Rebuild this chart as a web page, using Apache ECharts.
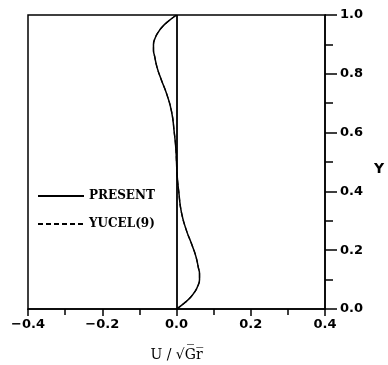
<!DOCTYPE html>
<html>
<head>
<meta charset="utf-8">
<script src="https://cdn.jsdelivr.net/npm/echarts@6/dist/echarts.min.js"></script>
<style>
  html, body { margin: 0; padding: 0; background: #fff; }
  #chart { width: 388px; height: 365px; }
</style>
</head>
<body>
<div id="chart"></div>
<script>
// Y positions across the channel (vertical axis)
const yValues = [0, 0.02, 0.04, 0.06, 0.08, 0.10, 0.12, 0.14, 0.18, 0.22, 0.27, 0.33, 0.40, 0.45, 0.50,
  0.55, 0.60, 0.67, 0.73, 0.78, 0.82, 0.86, 0.88, 0.90, 0.92, 0.94, 0.96, 0.98, 1.0]
// U / sqrt(Gr), present solution
const presentU = [0, 0.021, 0.038, 0.050, 0.058, 0.062, 0.062, 0.059, 0.052, 0.041, 0.026, 0.013, 0.006, 0.002, 0,
  -0.002, -0.006, -0.013, -0.026, -0.041, -0.052, -0.059, -0.062, -0.062, -0.058, -0.050, -0.038, -0.021, 0]
// Yucel (9), lies on top of the present curve
const yucelU = [0, 0.021, 0.038, 0.050, 0.058, 0.062, 0.062, 0.059, 0.052, 0.041, 0.026, 0.013, 0.006, 0.002, 0,
  -0.002, -0.006, -0.013, -0.026, -0.041, -0.052, -0.059, -0.062, -0.062, -0.058, -0.050, -0.038, -0.021, 0]
const seriesNames = ["PRESENT", "YUCEL(9)"]

const fmt = v => (v < 0 ? "\u2212" : "") + Math.abs(v).toFixed(1)
const pairs = (us) => us.map((u, i) => [u, yValues[i]])

const labelFont = { color: "#000", fontFamily: "DejaVu Sans", fontWeight: "bold", fontSize: 13 }

const option = {
  backgroundColor: "#fff",
  animation: false,
  grid: {
    left: 28, right: 63, top: 15, bottom: 56,
    outerBoundsMode: "none",
    show: true, borderColor: "#000", borderWidth: 1.5
  },
  legend: {
    orient: "vertical",
    left: 32, top: 185,
    itemWidth: 46, itemHeight: 10, itemGap: 16,
    data: seriesNames.map(n => ({ name: n, itemStyle: { opacity: 0 } })),
    textStyle: { color: "#000", fontFamily: "DejaVu Serif", fontWeight: "bold", fontSize: 12 }
  },
  xAxis: {
    type: "value",
    min: -0.4, max: 0.4, interval: 0.2,
    name: "U / \u221AG\u0305r\u0305",
    nameLocation: "middle", nameGap: 39,
    nameTextStyle: { color: "#000", fontFamily: "DejaVu Serif", fontSize: 14 },
    axisLine: { onZero: false, lineStyle: { color: "#000", width: 1.5 } },
    axisTick: { inside: false, length: 7, lineStyle: { color: "#000", width: 1.5 } },
    minorTick: { show: true, splitNumber: 2, length: 6, lineStyle: { color: "#000", width: 1.5 } },
    axisLabel: Object.assign({ margin: 9, formatter: fmt }, labelFont),
    splitLine: { show: false }
  },
  yAxis: {
    type: "value",
    position: "right",
    min: 0, max: 1, interval: 0.2,
    name: "Y",
    nameLocation: "middle", nameGap: 49, nameRotate: 0,
    nameTextStyle: Object.assign({}, labelFont, { fontSize: 14, verticalAlign: "top" }),
    axisLine: { show: true, onZero: false, lineStyle: { color: "#000", width: 1.5 } },
    axisTick: { inside: false, length: 12, lineStyle: { color: "#000", width: 1.5 } },
    minorTick: { show: true, splitNumber: 2, length: 8, lineStyle: { color: "#000", width: 1.5 } },
    axisLabel: Object.assign({ margin: 15, formatter: v => v.toFixed(1) }, labelFont),
    splitLine: { show: false }
  },
  series: [
    {
      name: seriesNames[0],
      type: "line",
      data: pairs(presentU),
      smooth: 0.5,
      symbol: "none",
      lineStyle: { color: "#000", width: 1.5, type: "solid" },
      itemStyle: { color: "#000" },
      markLine: {
        silent: true, symbol: "none", label: { show: false },
        lineStyle: { color: "#000", width: 1.8, type: "solid" },
        data: [{ xAxis: 0 }]
      }
    },
    {
      name: seriesNames[1],
      type: "line",
      data: pairs(yucelU),
      smooth: 0.5,
      symbol: "none",
      lineStyle: { color: "#000", width: 1.2, type: [5, 3] },
      itemStyle: { color: "#000" }
    }
  ]
}

const myChart = echarts.init(document.getElementById("chart"))
myChart.setOption(option)
window.addEventListener("resize", function () {
  myChart.resize()
})
</script>
</body>
</html>
